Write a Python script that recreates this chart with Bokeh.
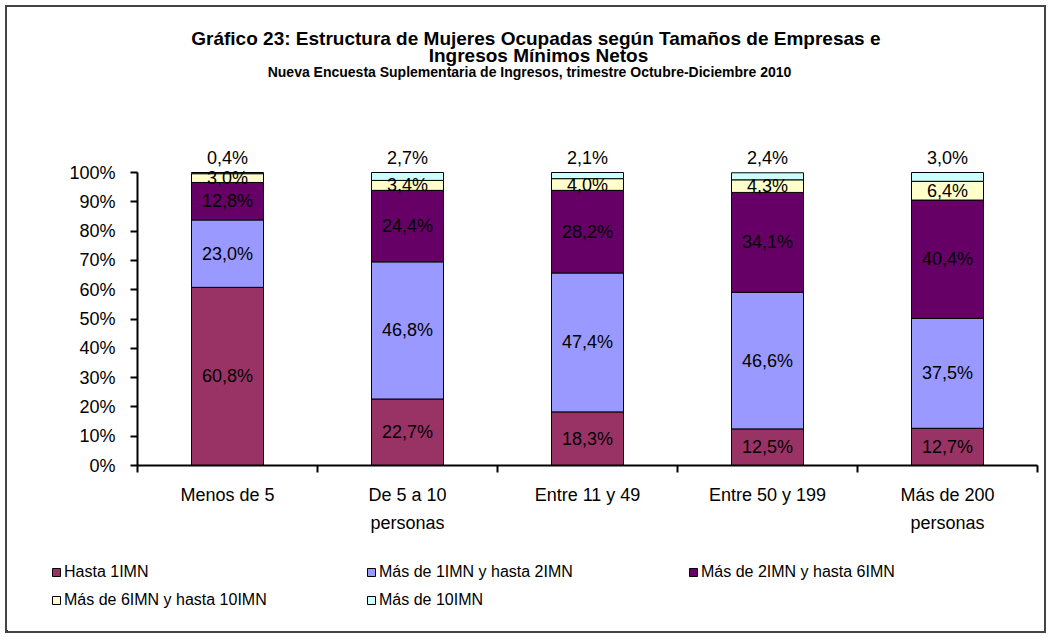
from bokeh.plotting import figure
from bokeh.models import (Range1d, FixedTicker, ColumnDataSource, LabelSet, Label,
                          Legend, LegendItem)
from bokeh.layouts import column
from bokeh.core.properties import value
from bokeh.embed import file_html
from bokeh.resources import INLINE

categories = ["Menos de 5", "De 5 a 10\npersonas", "Entre 11 y 49", "Entre 50 y 199", "Más de 200\npersonas"]
series_names = ["Hasta 1IMN", "Más de 1IMN y hasta 2IMN", "Más de 2IMN y hasta 6IMN",
                "Más de 6IMN y hasta 10IMN", "Más de 10IMN"]
hasta1 = [60.8, 22.7, 18.3, 12.5, 12.7]
de1a2 = [23.0, 46.8, 47.4, 46.6, 37.5]
de2a6 = [12.8, 24.4, 28.2, 34.1, 40.4]
de6a10 = [3.0, 3.4, 4.0, 4.3, 6.4]
mas10 = [0.4, 2.7, 2.1, 2.4, 3.0]
colors = ["#993366", "#9999FF", "#660066", "#FFFFCC", "#CCFFFF"]
y_ticks = [0, 10, 20, 30, 40, 50, 60, 70, 80, 90, 100]
title1 = "Gráfico 23: Estructura  de Mujeres Ocupadas según Tamaños de Empresas e"
title2 = "Ingresos Mínimos Netos"
subtitle = "Nueva Encuesta Suplementaria de Ingresos, trimestre Octubre-Diciembre 2010"

FONT = "Liberation Sans"
OX, OY = 7, 7          # page offset of children (margin 5 + border 2)
W = 1037
H1 = 533
H2 = 91
PX_X = 180.0           # px per category
PX_Y = 2.93            # px per percent
FRAME_L, FRAME_T, FRAME_R, FRAME_B = 137, 7, 1044, 465


def dx(px):
    return (px - FRAME_L) / PX_X


def dy(py):
    return 100 + (172 - py) / PX_Y


p = figure(width=W, height=H1, output_backend="svg", toolbar_location=None, title=None,
           x_range=Range1d(0, dx(FRAME_R)), y_range=Range1d(0, dy(FRAME_T)),
           min_border_left=FRAME_L - OX, min_border_right=0, min_border_top=0,
           min_border_bottom=(OY + H1) - FRAME_B)
p.frame_align = False
p.outline_line_color = None
p.xgrid.visible = False
p.ygrid.visible = False
p.background_fill_color = "white"
p.border_fill_color = "white"

series = [hasta1, de1a2, de2a6, de6a10, mas10]
xs = [i + 0.5 for i in range(len(categories))]
data = {"x": xs}
keys = ["s0", "s1", "s2", "s3", "s4"]
for k, s in zip(keys, series):
    data[k] = s
src = ColumnDataSource(data)
rends = p.vbar_stack(keys, x="x", width=0.4, source=src, color=colors,
                     line_color="black", line_width=1)

# data labels
lx, ly, lt = [], [], []
for i in range(len(categories)):
    base = 0.0
    for j, s in enumerate(series):
        v = s[i]
        lx.append(xs[i])
        if j < len(series) - 1:
            ly.append(base + v / 2.0)
        else:
            ly.append(dy(157))
        lt.append(f"{v:.1f}%".replace(".", ","))
        base += v
lsrc = ColumnDataSource(dict(x=lx, y=ly, t=lt))
p.add_layout(LabelSet(x="x", y="y", text="t", source=lsrc, text_align="center",
                      text_baseline="middle", text_font=value(FONT), text_font_size="18px",
                      text_color="black"))

# axes
xa = p.xaxis[0]
xa.ticker = FixedTicker(ticks=xs, minor_ticks=[0, 1, 2, 3, 4, 5])
xa.bounds = (0, 5)
xa.major_label_overrides = {x: c for x, c in zip(xs, categories)}
xa.major_tick_out = 0
xa.major_tick_in = 0
xa.minor_tick_out = 7
xa.minor_tick_in = 0
xa.minor_tick_line_color = "black"
xa.minor_tick_line_width = 2
xa.axis_line_width = 2
xa.axis_line_color = "black"
xa.major_label_text_font = FONT
xa.major_label_text_font_size = "18px"
xa.major_label_text_color = "black"
xa.major_label_text_line_height = 1.4
xa.major_label_standoff = 12

ya = p.yaxis[0]
ya.ticker = FixedTicker(ticks=y_ticks, minor_ticks=[])
ya.bounds = (0, 100)
ya.major_label_overrides = {t: f"{t}%" for t in y_ticks}
ya.major_tick_out = 7
ya.major_tick_in = 0
ya.major_tick_line_width = 2
ya.major_tick_line_color = "black"
ya.minor_tick_out = 0
ya.minor_tick_in = 0
ya.axis_line_width = 2
ya.axis_line_color = "black"
ya.major_label_text_font = FONT
ya.major_label_text_font_size = "18px"
ya.major_label_text_color = "black"
ya.major_label_standoff = 15

# titles
p.add_layout(Label(x=dx(538), y=dy(38), text=title1,
                   text_align="center", text_baseline="middle", text_font=FONT,
                   text_font_size="19px", text_font_style="bold", text_color="black"))
p.add_layout(Label(x=dx(538), y=dy(55), text=title2,
                   text_align="center", text_baseline="middle", text_font=FONT,
                   text_font_size="19px", text_font_style="bold", text_color="black"))
p.add_layout(Label(x=dx(529), y=dy(71), text=subtitle,
                   text_align="center", text_baseline="middle", text_font=FONT,
                   text_font_size="14px", text_font_style="bold", text_color="black"))

# legend figure
p2 = figure(width=W, height=H2, output_backend="svg", toolbar_location=None, title=None,
            x_range=Range1d(0, W), y_range=Range1d(0, H2),
            x_axis_type=None, y_axis_type=None,
            min_border_left=0, min_border_right=0, min_border_top=0, min_border_bottom=0)
p2.frame_align = False
p2.outline_line_color = None
p2.xgrid.visible = False
p2.ygrid.visible = False
p2.background_fill_color = "white"
p2.border_fill_color = "white"

leg_pos = [(51, 573), (366, 573), (688, 573), (51, 601), (366, 601)]
bottom_page = OY + H1 + H2
for (px, py), name, c in zip(leg_pos, series_names, colors):
    r = p2.vbar(x=[-1000], top=[1], width=1, fill_color=c, line_color="black", line_width=1)
    lg = Legend(items=[LegendItem(label=name, renderers=[r])],
                location=(px - OX, bottom_page - (py + 8)),
                padding=0, margin=0, spacing=0, border_line_color=None,
                background_fill_alpha=0, glyph_width=10, glyph_height=10,
                label_height=16, label_standoff=3,
                label_text_font=FONT, label_text_font_size="16px", label_text_color="black")
    p2.add_layout(lg, "center")

layout = column(p, p2, spacing=0, margin=(5, 0, 0, 5),
                styles={"border": "2px solid #444444"})

open("out.html", "w").write(file_html(layout, INLINE))
